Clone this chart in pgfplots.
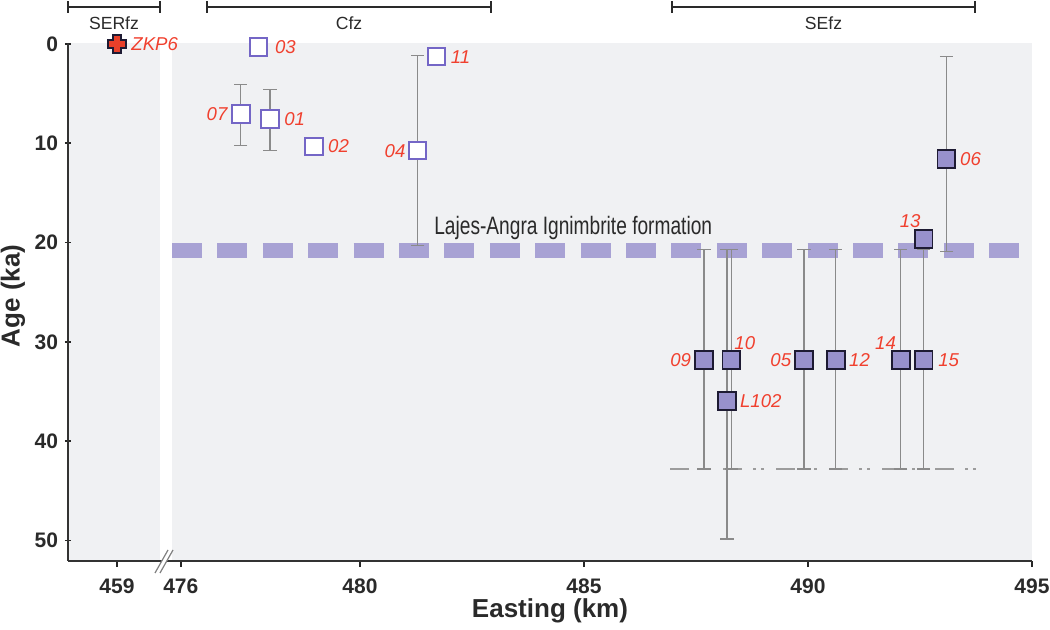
\documentclass[border=0pt]{standalone}
\usepackage{fontspec}
\setmainfont{Liberation Sans}
\newfontfamily\narrowfont[FakeStretch=0.76]{Liberation Sans}
\usepackage{pgfplots}
\pgfplotsset{compat=1.18}
\definecolor{bgc}{HTML}{F0F1F3}
\definecolor{openc}{HTML}{7466C6}
\definecolor{fillc}{HTML}{9891CC}
\definecolor{edgec}{HTML}{1E1B33}
\definecolor{bandc}{HTML}{A8A2D4}
\definecolor{errc}{HTML}{8A8A8A}
\definecolor{labred}{HTML}{F0402E}
\definecolor{crossc}{HTML}{E8402A}
\definecolor{txt}{HTML}{2A2A2A}

\pgfdeclareplotmark{fatplus}{%
 \pgfpathmoveto{\pgfqpoint{-2pt}{4.6pt}}%
 \pgfpathlineto{\pgfqpoint{2pt}{4.6pt}}%
 \pgfpathlineto{\pgfqpoint{2pt}{2pt}}%
 \pgfpathlineto{\pgfqpoint{4.6pt}{2pt}}%
 \pgfpathlineto{\pgfqpoint{4.6pt}{-2pt}}%
 \pgfpathlineto{\pgfqpoint{2pt}{-2pt}}%
 \pgfpathlineto{\pgfqpoint{2pt}{-4.6pt}}%
 \pgfpathlineto{\pgfqpoint{-2pt}{-4.6pt}}%
 \pgfpathlineto{\pgfqpoint{-2pt}{-2pt}}%
 \pgfpathlineto{\pgfqpoint{-4.6pt}{-2pt}}%
 \pgfpathlineto{\pgfqpoint{-4.6pt}{2pt}}%
 \pgfpathlineto{\pgfqpoint{-2pt}{2pt}}%
 \pgfpathclose
 \pgfusepathqfillstroke}

\newcommand\lab{\fontsize{9.3}{11}\selectfont\itshape}
\tikzset{lbl/.style={font=\lab, text=labred, inner sep=0pt}}

\pgfplotsset{
 base/.style={
  scale only axis, height=259pt,
  ymin=-0.1, ymax=52.06, y dir=reverse,
  axis background/.style={fill=bgc},
  axis x line=bottom,
  tick align=outside, major tick length=3pt,
  every tick/.style={black!85, line width=0.8pt},
  axis line style={-, black!80, line width=1pt},
  ticklabel style={font=\fontsize{10.5}{12}\selectfont\bfseries, text=txt},
  xticklabel style={yshift=-2.5pt},
  /pgf/number format/assume math mode=true,
  /pgf/number format/1000 sep={},
  clip=false,
 },
}

\begin{document}
\begin{tikzpicture}
\path[use as bounding box] (0,0) rectangle (525pt,315pt);

% right panel
\begin{axis}[base, at={(86pt,34.5pt)}, anchor=south west, width=430pt,
  xmin=475.804, xmax=495, xtick={476,480,485,490,495},
  axis y line=none]
% Lajes-Angra band
\addplot[bandc, line width=7.5pt, dash pattern=on 15pt off 7.7pt, forget plot]
  coordinates {(475.804,20.8) (495,20.8)};
% dash-dot line
\addplot[errc!85, line width=1.4pt, dash pattern=on 9.5pt off 5.5pt on 1.5pt off 2.5pt on 1.5pt off 6pt, forget plot]
  coordinates {(486.93,42.8) (493.77,42.8)};
% error bars
\addplot[draw=none, mark=none, forget plot,
  error bars/.cd, y dir=both, y explicit,
  error bar style={draw=errc, line width=0.6pt},
  error mark options={rotate=90, draw=errc, line width=0.6pt, mark size=3.3pt}]
 table[x=x, y=y, y error plus=ep, y error minus=em] {
x y ep em
477.34 7.05 3.15 2.95
477.99 7.55 3.15 2.95
481.29 10.74 9.56 9.56
493.09 11.58 9.32 10.30
487.68 31.85 10.95 11.15
488.29 31.85 10.95 11.15
488.19 35.95 13.90 15.25
489.91 31.85 10.95 11.15
490.62 31.85 10.95 11.15
492.07 31.85 10.95 11.15
492.58 31.85 10.95 11.15
};
% Cfz open squares
\addplot[only marks, mark=square*, mark size=4.35pt,
  mark options={fill=white, draw=openc, line width=1pt}]
 table {
x y
477.74 0.30
477.34 7.05
477.99 7.55
478.97 10.30
481.29 10.74
481.71 1.28
};
% SEfz filled squares
\addplot[only marks, mark=square*, mark size=4.45pt,
  mark options={fill=fillc, draw=edgec, line width=0.9pt}]
 table {
x y
493.09 11.58
492.58 19.64
487.68 31.85
488.29 31.85
488.19 35.95
489.91 31.85
490.62 31.85
492.07 31.85
492.58 31.85
};
% labels
\node[lbl, anchor=west, xshift=8pt] at (axis cs:477.74,0.30) {03};
\node[lbl, anchor=east, xshift=-6.5pt] at (axis cs:477.34,7.05) {07};
\node[lbl, anchor=west, xshift=7pt] at (axis cs:477.99,7.55) {01};
\node[lbl, anchor=west, xshift=7pt] at (axis cs:478.97,10.30) {02};
\node[lbl, anchor=east, xshift=-6pt] at (axis cs:481.29,10.74) {04};
\node[lbl, anchor=west, xshift=7pt] at (axis cs:481.71,1.28) {11};
\node[lbl, anchor=west, xshift=6.7pt] at (axis cs:493.09,11.58) {06};
\node[lbl, xshift=-6.7pt, yshift=9pt] at (axis cs:492.58,19.64) {13};
\node[lbl, anchor=east, xshift=-6.3pt] at (axis cs:487.68,31.85) {09};
\node[lbl, xshift=6.7pt, yshift=8.8pt] at (axis cs:488.29,31.85) {10};
\node[lbl, anchor=west, xshift=6.4pt] at (axis cs:488.19,35.95) {L102};
\node[lbl, anchor=east, xshift=-6.2pt] at (axis cs:489.91,31.85) {05};
\node[lbl, anchor=west, xshift=6.5pt] at (axis cs:490.62,31.85) {12};
\node[lbl, xshift=-7.6pt, yshift=8.8pt] at (axis cs:492.07,31.85) {14};
\node[lbl, anchor=west, xshift=7.2pt] at (axis cs:492.58,31.85) {15};
\node[anchor=west, inner sep=0pt, text=txt, font=\narrowfont\fontsize{12.6}{14}\selectfont] at (axis cs:481.65,18.5) {Lajes-Angra Ignimbrite formation};
\end{axis}

% left panel
\begin{axis}[base, at={(34pt,34.5pt)}, anchor=south west, width=46pt,
  xmin=457.906, xmax=459.96, xtick={459},
  axis y line=left, ytick={0,10,20,30,40,50},
  y axis line style={-, black!80, line width=1pt},
  every outer y axis line/.append style={-},
  every inner y axis line/.append style={-}]
\addplot[only marks, mark=fatplus, mark options={fill=crossc, draw=edgec, line width=0.8pt}]
  coordinates {(459,0)};
\node[lbl, anchor=west, xshift=7pt] at (axis cs:459,0) {ZKP6};
\end{axis}

% axis line across the break and break marks
\draw[black!80, line width=1pt] (80pt,34.5pt) -- (86pt,34.5pt);
\fill[white] (77.5pt,28.5pt) -- (84pt,40pt) -- (86.5pt,40pt) -- (80pt,28.5pt) -- cycle;
\draw[gray, line width=0.6pt] (77.5pt,28.5pt) -- (84pt,40pt);
\draw[gray, line width=0.6pt] (80pt,28.5pt) -- (86.5pt,40pt);

% fault zone brackets
\begin{scope}[line width=1pt, draw=txt]
\draw (34pt,311.5pt) -- (80pt,311.5pt);
\draw (34pt,308.5pt) -- (34pt,314.5pt);
\draw (80pt,308.5pt) -- (80pt,314.5pt);
\draw (103.5pt,311.5pt) -- (245.5pt,311.5pt);
\draw (103.5pt,308.5pt) -- (103.5pt,314.5pt);
\draw (245.5pt,308.5pt) -- (245.5pt,314.5pt);
\draw (336pt,311.5pt) -- (487.5pt,311.5pt);
\draw (336pt,308.5pt) -- (336pt,314.5pt);
\draw (487.5pt,308.5pt) -- (487.5pt,314.5pt);
\end{scope}
\node[text=txt, font=\fontsize{8.8}{10}\selectfont] at (57pt,303.3pt) {SERfz};
\node[text=txt, font=\fontsize{8.8}{10}\selectfont] at (174.5pt,303.3pt) {Cfz};
\node[text=txt, font=\fontsize{8.8}{10}\selectfont] at (411.75pt,303.3pt) {SEfz};

% axis titles
\node[text=txt, font=\fontsize{13}{15}\selectfont\bfseries] at (275pt,9.5pt) {Easting (km)};
\node[text=txt, font=\fontsize{13}{15}\selectfont\bfseries, rotate=90] at (6.5pt,167pt) {Age (ka)};
\end{tikzpicture}
\end{document}
